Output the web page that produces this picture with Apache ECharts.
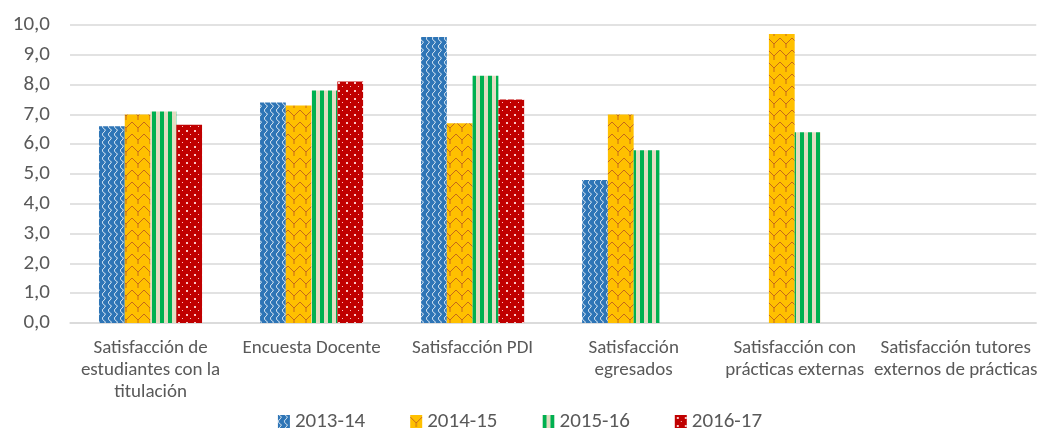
<!DOCTYPE html>
<html><head><meta charset="utf-8">
<script src="https://cdn.jsdelivr.net/npm/echarts@6/dist/echarts.min.js"></script>
<style>html,body{margin:0;padding:0;background:#fff}#c{width:1040px;height:430px}</style>
</head><body><div id="c"></div>
<script>
const categories = [
  'Satisfacción de\nestudiantes con la\ntitulación',
  'Encuesta Docente',
  'Satisfacción PDI',
  'Satisfacción\negresados',
  'Satisfacción con\nprácticas externas',
  'Satisfacción tutores\nexternos de prácticas'
];
const seriesNames = ['2013-14', '2014-15', '2015-16', '2016-17'];
const v2013 = [6.6, 7.4, 9.6, 4.8, null, null];
const v2014 = [7.0, 7.3, 6.7, 7.0, 9.7, null];
const v2015 = [7.1, 7.8, 8.3, 5.8, 6.4, null];
const v2016 = [6.65, 8.1, 7.5, null, null, null];
const yTicks = [0, 1, 2, 3, 4, 5, 6, 7, 8, 9, 10];

function mk(w, h, draw) {
  const c = document.createElement('canvas');
  c.width = w; c.height = h;
  draw(c.getContext('2d'));
  return { image: c, repeat: 'repeat' };
}
const blueP = mk(6, 8, g => {
  g.fillStyle = '#2e75b6'; g.fillRect(0, 0, 6, 8);
  g.strokeStyle = 'rgba(255,255,255,0.8)'; g.lineWidth = 1;
  g.beginPath(); g.moveTo(1, 0); g.quadraticCurveTo(5, 2, 2, 4); g.quadraticCurveTo(-1, 6, 1, 8); g.stroke();
});
const orangeP = mk(12, 12, g => {
  g.fillStyle = '#ffc000'; g.fillRect(0, 0, 12, 12);
  g.strokeStyle = '#c5691a'; g.lineWidth = 1;
  g.beginPath();
  g.moveTo(0, 2); g.quadraticCurveTo(3, 5, 6, 8); g.quadraticCurveTo(9, 5, 12, 2);
  g.moveTo(6, 8); g.lineTo(6, 12);
  g.stroke();
});
const greenP = mk(8, 8, g => {
  g.fillStyle = '#e3dcc2'; g.fillRect(0, 0, 8, 8);
  g.fillStyle = '#00b050'; g.fillRect(0, 0, 4, 8);
});
const redP = mk(8, 8, g => {
  g.fillStyle = '#c00000'; g.fillRect(0, 0, 8, 8);
  g.fillStyle = 'rgba(255,220,220,0.9)';
  g.fillRect(2, 2, 2, 2); g.fillRect(6, 6, 1, 1);
});
const patterns = [blueP, orangeP, greenP, redP];
const values = [v2013, v2014, v2015, v2016];

const chart = echarts.init(document.getElementById('c'));
const font = "Calibri, Carlito, 'Liberation Sans', sans-serif";
chart.setOption({
  animation: false,
  grid: { left: 70, width: 972, top: 25, bottom: 107 },
  legend: {
    top: 406, left: 'center', itemWidth: 12, itemHeight: 13, itemGap: 45,
    icon: 'rect',
    textStyle: { color: '#595959', fontSize: 21, fontFamily: font },
    data: seriesNames
  },
  xAxis: {
    type: 'category', data: categories,
    axisTick: { show: false },
    axisLine: { lineStyle: { color: '#d9d9d9', width: 1.5 } },
    axisLabel: { color: '#595959', fontSize: 19, lineHeight: 22, fontFamily: font, margin: 14, interval: 0 }
  },
  yAxis: {
    type: 'value', min: 0, max: 10, interval: 1,
    axisLabel: { color: '#595959', fontSize: 21, fontFamily: font, margin: 20,
      formatter: v => yTicks.includes(v) ? v.toFixed(1).replace('.', ',') : '' },
    splitLine: { lineStyle: { color: '#d9d9d9', width: 1.5 } },
    axisLine: { show: false }, axisTick: { show: false }
  },
  series: seriesNames.map((n, i) => ({
    name: n, type: 'bar', data: values[i],
    barGap: '0%', barCategoryGap: '36%',
    itemStyle: { color: patterns[i] }
  }))
});
</script></body></html>
